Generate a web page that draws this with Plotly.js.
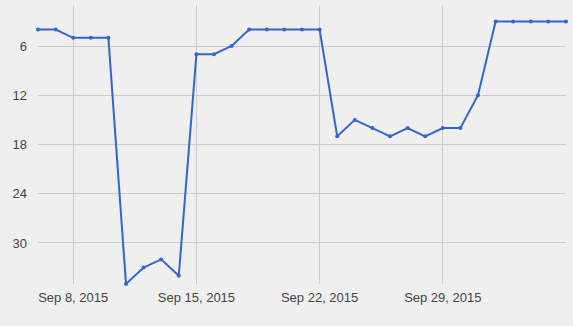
<!DOCTYPE html>
<html>
<head>
<meta charset="utf-8">
<script src="https://cdn.plot.ly/plotly-3.0.1.min.js"></script>
<style>
  html, body { margin: 0; padding: 0; background: #efefef; }
  #chart { width: 573px; height: 326px; }
</style>
</head>
<body>
<div id="chart"></div>
<script>
// Daily ranking, Sep 6 – Oct 6, 2015 (lower is better, axis reversed)
const dates = [
  '2015-09-06', '2015-09-07', '2015-09-08', '2015-09-09', '2015-09-10',
  '2015-09-11', '2015-09-12', '2015-09-13', '2015-09-14', '2015-09-15',
  '2015-09-16', '2015-09-17', '2015-09-18', '2015-09-19', '2015-09-20',
  '2015-09-21', '2015-09-22', '2015-09-23', '2015-09-24', '2015-09-25',
  '2015-09-26', '2015-09-27', '2015-09-28', '2015-09-29', '2015-09-30',
  '2015-10-01', '2015-10-02', '2015-10-03', '2015-10-04', '2015-10-05',
  '2015-10-06'
];
const positions = [
  4, 4, 5, 5, 5,
  35, 33, 32, 34, 7,
  7, 6, 4, 4, 4,
  4, 4, 17, 15, 16,
  17, 16, 17, 16, 16,
  12, 3, 3, 3, 3,
  3
];
const yTicks = [6, 12, 18, 24, 30];
const xTicks = ['2015-09-08', '2015-09-15', '2015-09-22', '2015-09-29'];
const xTickText = ['Sep 8, 2015', 'Sep 15, 2015', 'Sep 22, 2015', 'Sep 29, 2015'];

const trace = {
  x: dates,
  y: positions,
  type: 'scatter',
  mode: 'lines+markers',
  line: { color: '#3366cc', width: 2 },
  marker: { color: '#3366cc', size: 4 },
  cliponaxis: false,
  hoverinfo: 'x+y'
};

const layout = {
  width: 573,
  height: 326,
  paper_bgcolor: '#efefef',
  plot_bgcolor: '#efefef',
  margin: { l: 38, r: 7, t: 5, b: 42 },
  showlegend: false,
  font: { family: 'Arial, "Liberation Sans", sans-serif', size: 13, color: '#444444' },
  xaxis: {
    type: 'date',
    range: ['2015-09-06', '2015-10-06'],
    tickvals: xTicks,
    ticktext: xTickText,
    showgrid: true,
    gridcolor: '#cccccc',
    gridwidth: 1,
    zeroline: false,
    showline: false,
    ticks: '',
    ticklabelstandoff: 4
  },
  yaxis: {
    range: [35, 1],
    tickvals: yTicks,
    showgrid: true,
    gridcolor: '#cccccc',
    gridwidth: 1,
    zeroline: false,
    showline: false,
    ticks: '',
    ticklabelstandoff: 10
  }
};

Plotly.newPlot('chart', [trace], layout, { displayModeBar: false, staticPlot: true });
</script>
</body>
</html>
